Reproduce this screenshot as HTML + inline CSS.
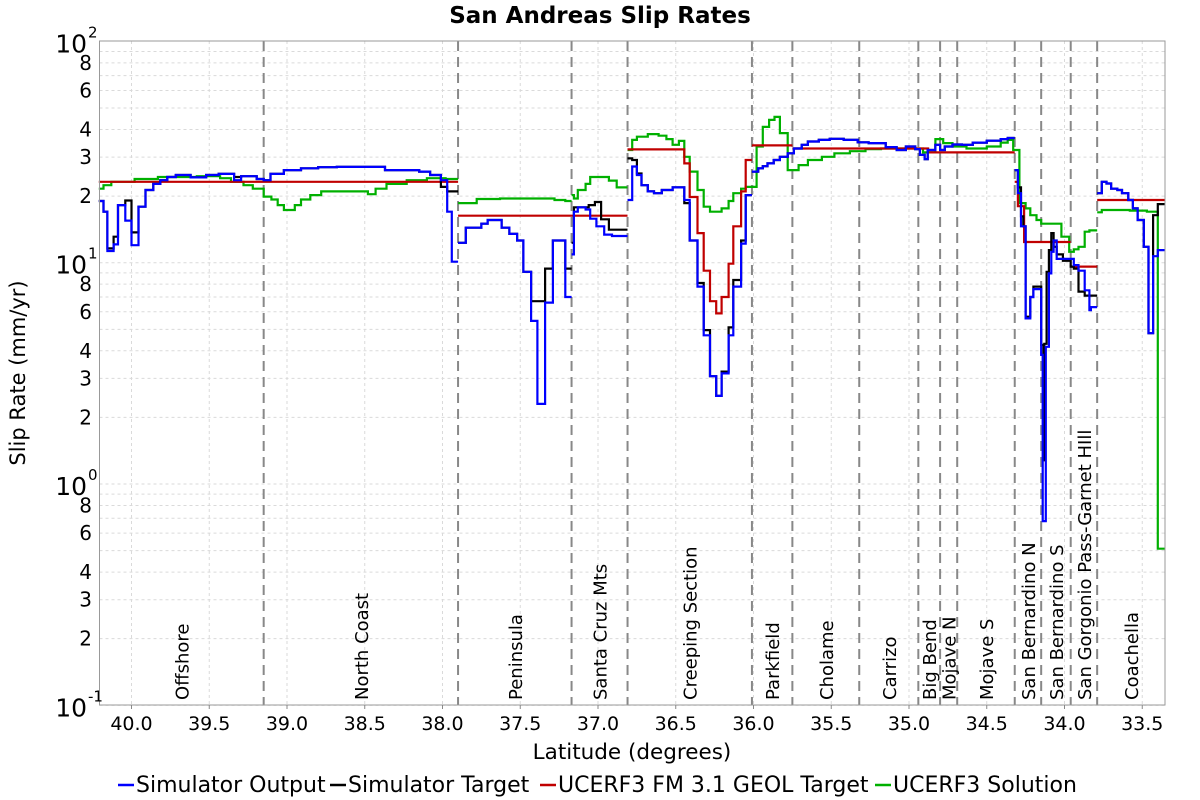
<!DOCTYPE html>
<html><head><meta charset="utf-8"><style>
html,body{margin:0;padding:0;background:#fff;}
svg{display:block;font-family:"DejaVu Sans","Liberation Sans",sans-serif;}
</style></head><body>
<svg id="chart" width="1200" height="800" viewBox="0 0 1200 800">
<text x="600" y="23" text-anchor="middle" font-size="23" font-weight="bold">San Andreas Slip Rates</text>
<g id="grid"></g>
<g id="dividers"></g>
<g id="series"></g>
<g id="axes"></g>
<text x="0" y="0" transform="translate(25,373) rotate(-90)" text-anchor="middle" font-size="21">Slip Rate (mm/yr)</text>
<text x="632" y="759" text-anchor="middle" font-size="21.5">Latitude (degrees)</text>
<g id="legend"></g>
</svg>
<script>
const NS="http://www.w3.org/2000/svg";
const xTicks=[40.0,39.5,39.0,38.5,38.0,37.5,37.0,36.5,36.0,35.5,35.0,34.5,34.0,33.5];
const yDecades=[0.1,1,10,100];
const yDecadeExp=["-1","0","1","2"];
const yMinorLabels=[2,3,4,6,8];
const sectionBounds=[40.206,39.15,37.90,37.17,36.81,36.01,35.75,35.32,34.94,34.80,34.69,34.32,34.15,33.96,33.79,33.354];
const sectionNames=["Offshore","North Coast","Peninsula","Santa Cruz Mts","Creeping Section","Parkfield","Cholame","Carrizo","Big Bend","Mojave N","Mojave S","San Bernardino N","San Bernardino S","San Gorgonio Pass-Garnet HIll","Coachella"];
const seriesNames=["Simulator Output","Simulator Target","UCERF3 FM 3.1 GEOL Target","UCERF3 Solution"];
const seriesColors=["#0000ff","#000000","#c00000","#00b000"];
// step series: value holds from lat[i] to lat[i+1]; null = gap
const blueLat=[40.21,40.18,40.155,40.115,40.087,40.04,40.0,39.955,39.91,39.86,39.815,39.77,39.715,39.62,39.52,39.44,39.34,39.295,39.195,39.15,39.106,39.02,38.91,38.80,38.68,38.37,38.15,38.08,38.01,37.97,37.94,37.90,
37.90,37.85,37.75,37.71,37.62,37.57,37.52,37.48,37.43,37.39,37.34,37.29,37.21,37.17,
37.17,37.155,37.13,37.08,37.05,37.01,36.96,36.91,36.81,
36.81,36.78,36.75,36.72,36.68,36.64,36.59,36.52,36.445,36.41,36.36,36.32,36.28,36.24,36.205,36.16,36.13,36.08,36.05,36.01,
36.01,35.97,35.94,35.91,35.87,35.83,35.78,35.74,35.69,35.65,35.58,35.51,35.42,35.33,35.26,35.15,35.08,35.02,34.96,34.93,34.90,34.88,34.83,34.80,34.77,34.72,34.66,34.59,34.50,34.41,34.365,34.32,
34.32,34.30,34.28,34.25,34.22,34.20,34.15,34.14,34.12,34.10,34.085,34.07,34.05,33.97,33.94,33.91,33.87,33.84,33.83,33.79,
33.79,33.76,33.73,33.70,33.66,33.63,33.59,33.56,33.53,33.49,33.46,33.43,33.40,33.354];
const blueVal=[19.0,17.0,11.3,12.1,18.2,15.5,12.0,17.9,21.3,22.7,23.6,24.4,24.9,24.3,24.9,25.2,23.6,24.6,23.9,23.6,25.2,26.2,26.7,27.0,27.1,26.2,25.8,24.9,23.6,17.0,10.1,null,
12.3,14.4,15.0,15.6,14.4,13.5,12.6,9.1,5.46,2.30,6.6,12.6,7.0,null,
10.9,17.0,17.8,17.4,15.8,14.6,13.4,13.2,null,
19.2,27.2,24.9,22.4,21.0,20.6,21.3,21.9,19.2,12.6,7.8,4.7,3.07,2.5,3.16,4.7,7.8,12.2,20.2,null,
25.8,26.7,27.3,28.1,29.1,30.1,31.2,32.8,34.1,35.3,35.9,36.3,35.9,35.0,34.7,33.3,32.3,33.5,32.6,30.7,29.4,32.3,34.1,32.3,33.5,34.2,34.1,34.9,35.6,36.2,36.6,null,
26.2,20.6,14.6,5.6,7.0,7.6,3.83,0.68,4.17,8.95,11.2,12.6,10.4,10.4,9.75,9.2,7.5,6.1,6.3,null,
20.6,23.2,22.8,21.6,21.3,20.6,19.2,17.6,15.6,11.8,4.8,10.7,11.4,null];
const blackLat=[40.21,40.18,40.155,40.115,40.087,40.04,40.0,39.955,39.91,39.86,39.815,39.77,39.715,39.62,39.52,39.44,39.34,39.295,39.195,39.15,39.106,39.02,38.91,38.80,38.68,38.37,38.15,38.08,38.01,37.97,37.90,
37.90,37.85,37.75,37.71,37.62,37.57,37.52,37.48,37.43,37.34,37.29,37.21,37.17,
37.17,37.155,37.06,37.02,36.98,36.93,36.81,
36.81,36.78,36.75,36.72,36.68,36.64,36.59,36.52,36.445,36.41,36.36,36.32,36.28,36.24,36.205,36.16,36.13,36.08,36.05,36.01,
36.01,35.97,35.94,35.91,35.87,35.83,35.78,35.74,35.69,35.65,35.58,35.51,35.42,35.33,35.26,35.15,35.08,35.02,34.96,34.93,34.90,34.88,34.83,34.80,34.77,34.72,34.66,34.59,34.50,34.41,34.365,34.32,
34.32,34.30,34.28,34.265,34.25,34.22,34.20,34.15,34.135,34.13,34.115,34.10,34.085,34.07,34.05,34.01,33.96,33.94,33.91,33.87,33.83,33.79,
33.79,33.76,33.73,33.70,33.66,33.63,33.59,33.56,33.53,33.49,33.46,33.43,33.40,33.354];
const blackVal=[19.0,17.0,11.6,13.1,18.2,19.1,13.7,17.9,21.3,22.7,23.6,24.4,24.9,24.3,24.9,25.2,24.4,24.6,23.9,23.6,25.2,26.2,26.7,27.0,27.1,26.2,25.8,24.9,22.0,21.0,null,
12.3,14.4,15.0,15.6,14.4,13.5,12.6,9.1,6.7,9.4,12.6,9.4,null,
12.3,17.8,18.2,18.8,15.7,14.1,null,
29.6,29.1,25.3,22.4,21.0,20.6,21.3,21.9,18.6,12.6,8.1,4.96,3.07,2.5,3.22,5.1,8.35,12.6,20.2,null,
25.8,26.7,27.3,28.1,29.1,30.1,31.2,32.8,34.1,35.3,35.9,36.3,35.9,35.0,34.7,33.3,32.3,33.5,32.6,30.7,29.4,32.3,34.1,32.3,33.5,34.2,34.1,34.9,35.6,36.2,36.6,null,
26.2,21.9,16.2,14.6,5.7,7.0,7.8,4.25,1.28,4.3,9.1,11.4,13.6,11.8,10.9,10.2,9.6,9.4,7.4,7.1,7.1,null,
20.6,23.2,22.8,21.6,21.3,20.6,19.2,17.6,15.6,11.8,4.8,16.4,18.4,null];
const redLat=[40.21,37.90,37.90,36.81,
36.81,36.445,36.41,36.36,36.32,36.28,36.24,36.205,36.16,36.13,36.08,36.05,36.01,
36.01,35.75,35.75,34.87,34.87,34.32,
34.32,34.30,34.26,33.96,33.96,33.79,33.79,33.354];
const redVal=[23.2,null,16.3,null,
32.5,28.1,19.8,13.6,9.2,6.7,5.9,7.0,9.9,14.6,21.0,29.1,null,
33.9,null,32.8,null,31.5,null,
23.2,18.0,12.4,null,9.6,null,19.2,null];
const greenLat=[40.21,40.18,40.13,39.98,39.83,39.58,39.43,39.36,39.28,39.22,39.15,39.10,39.06,39.02,38.95,38.91,38.85,38.78,38.48,38.43,38.36,38.23,38.10,37.98,37.90,
37.90,37.78,37.63,37.28,37.21,37.17,
37.17,37.155,37.13,37.08,37.05,36.93,36.88,36.81,
36.81,36.78,36.75,36.68,36.61,36.56,36.52,36.48,36.445,36.41,36.36,36.32,36.28,36.205,36.16,36.13,36.08,36.05,36.01,
36.01,35.98,35.94,35.90,35.865,35.83,35.78,35.75,35.71,35.65,35.56,35.48,35.38,35.28,35.18,34.91,34.83,34.78,34.72,34.63,34.50,34.41,34.365,34.33,34.29,
34.29,34.25,34.22,34.18,34.15,34.02,33.97,33.94,33.91,33.87,33.84,33.79,
33.79,33.76,33.58,33.47,33.40,33.354];
const greenVal=[21.6,22.4,23.2,23.9,24.4,24.6,24.1,23.2,22.4,21.6,19.9,19.3,18.2,17.3,18.2,19.3,20.2,21.0,20.4,21.6,22.7,23.6,24.1,23.9,null,
18.6,19.4,19.5,19.2,19.0,null,
20.2,19.5,21.3,22.7,24.4,23.5,21.9,null,
32.3,35.9,37.1,38.1,37.5,36.2,34.1,35.5,30.1,25.8,21.3,17.9,17.0,17.6,19.0,20.6,21.6,22.0,null,
22.0,33.5,41.1,44.2,45.6,38.5,26.2,26.2,27.6,29.1,30.1,31.2,31.9,32.6,32.8,31.5,36.2,34.7,33.5,32.8,33.5,34.9,35.9,32.3,31.8,
18.6,17.6,16.4,15.6,15.0,13.1,11.2,11.5,11.8,13.8,14.0,null,
16.9,17.3,17.2,17.0,0.51,null];

const L=99.5,R=1165,T=41,B=705;
function X(lat){return 131.5+(40-lat)*155.5;}
function Y(v){return 484-Math.log10(v)*221.3;}
function mk(tag,attrs,parent){const e=document.createElementNS(NS,tag);for(const k in attrs)e.setAttribute(k,attrs[k]);parent.appendChild(e);return e;}

const grid=document.getElementById('grid');
for(let d=0;d<3;d++){for(let m=1;m<=9;m++){const v=yDecades[d]*m;const y=Y(v);
 const ln=mk('line',{x1:L,x2:R,y1:y,y2:y,stroke:'#dadada','stroke-width':1,'stroke-dasharray':'3,3'},grid);
 
 }}
xTicks.forEach(t=>{const x=X(t);
 const ln=mk('line',{x1:x,x2:x,y1:T,y2:B,stroke:'#dadada','stroke-width':1,'stroke-dasharray':'3,3'},grid);
 
 });

const div=document.getElementById('dividers');
for(let i=1;i<sectionBounds.length-1;i++){const x=X(sectionBounds[i]);
 const ln=mk('line',{x1:x,x2:x,y1:T,y2:B,stroke:'#888','stroke-width':2,'stroke-dasharray':'10,6'},div);
 
 }
for(let i=0;i<sectionNames.length;i++){const cx=(X(sectionBounds[i])+X(sectionBounds[i+1]))/2;
 const tx=mk('text',{x:0,y:0,transform:`translate(${cx+7},700) rotate(-90)`,'font-size':18},div);
 tx.textContent=sectionNames[i];
 
 }

const sg=document.getElementById('series');
function drawStep(lats,vals,color,name){
 let d='';let pen=false;
 for(let i=0;i<lats.length-1;i++){
  const v=vals[i];
  if(v===null||v===undefined){pen=false;continue;}
  const x1=X(lats[i]),x2=X(lats[i+1]),y=Y(v);
  if(!pen){d+=`M${x1.toFixed(1)},${y.toFixed(1)}`;pen=true;}
  else d+=`L${x1.toFixed(1)},${y.toFixed(1)}`;
  d+=`L${x2.toFixed(1)},${y.toFixed(1)}`;
 }
 const p=mk('path',{d:d,fill:'none',stroke:color,'stroke-width':2.2,'stroke-linejoin':'miter'},sg);
 
 
}
drawStep(greenLat,greenVal,seriesColors[3],'ucerf3-solution-line');
drawStep(redLat,redVal,seriesColors[2],'geol-target-line');
drawStep(blackLat,blackVal,seriesColors[1],'simulator-target-line');
drawStep(blueLat,blueVal,seriesColors[0],'simulator-output-line');

const ax=document.getElementById('axes');
const frame=mk('rect',{x:L,y:T,width:R-L,height:B-T,fill:'none',stroke:'#999','stroke-width':1},ax);


xTicks.forEach(t=>{const x=X(t);
 const tk=mk('line',{x1:x,x2:x,y1:B,y2:B+4,stroke:'#888'},ax);
 
 
 const tx=mk('text',{x:x,y:730,'text-anchor':'middle','font-size':19},ax);
 tx.textContent=t.toFixed(1);
 
 });
yDecades.forEach((v,i)=>{const y=Y(v);
 const tx=mk('text',{x:87,y:y+11,'text-anchor':'end','font-size':25},ax);
 tx.textContent='10';
 
 
 const sp=mk('text',{x:88,y:y-4,'text-anchor':'start','font-size':15},ax);
 sp.textContent=yDecadeExp[i];
 
 });
for(let d=0;d<3;d++){yMinorLabels.forEach(m=>{const y=Y(yDecades[d]*m);
 const tx=mk('text',{x:92,y:y+7,'text-anchor':'end','font-size':20},ax);
 tx.textContent=String(m);
 
 });}

const lg=document.getElementById('legend');
const legX=[118,330,540,875];
seriesNames.forEach((n,i)=>{
 const g=mk('g',{},lg);
 
 
 const ln=mk('line',{x1:legX[i],x2:legX[i]+16,y1:785,y2:785,stroke:seriesColors[i],'stroke-width':2.5},g);
 
 
 const tx=mk('text',{x:legX[i]+18,y:792,'font-size':22},g);
 tx.textContent=n;
 
 
});
</script>
</body></html>
